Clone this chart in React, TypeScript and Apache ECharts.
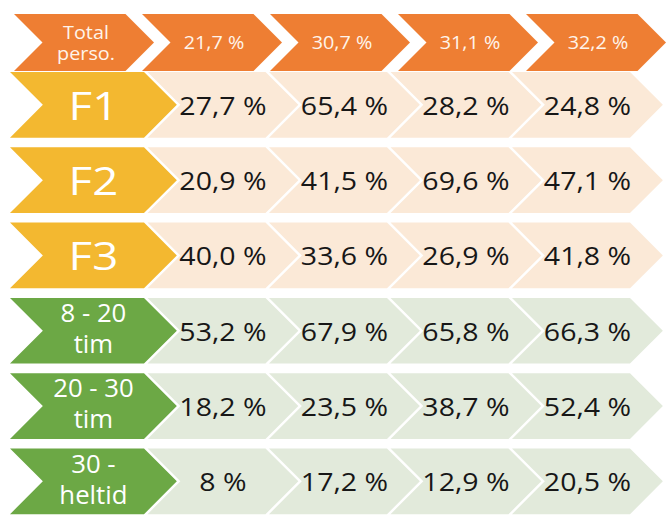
import { useEffect, useRef } from 'react';
import * as echarts from 'echarts';

// ---- data ----
const headerTitle = 'Total\nperso.';
const totals = ['21,7 %', '30,7 %', '31,1 %', '32,2 %'];
const columns = ['k1', 'k2', 'k3', 'k4'];
const rowLabels = ['F1', 'F2', 'F3', '8 - 20\ntim', '20 - 30\ntim', '30 -\nheltid'];
const rowGroups = ['F', 'F', 'F', 'tim', 'tim', 'tim'];
const valuesF1 = ['27,7 %', '65,4 %', '28,2 %', '24,8 %'];
const valuesF2 = ['20,9 %', '41,5 %', '69,6 %', '47,1 %'];
const valuesF3 = ['40,0 %', '33,6 %', '26,9 %', '41,8 %'];
const values8to20 = ['53,2 %', '67,9 %', '65,8 %', '66,3 %'];
const values20to30 = ['18,2 %', '23,5 %', '38,7 %', '52,4 %'];
const values30toFull = ['8 %', '17,2 %', '12,9 %', '20,5 %'];

// ---- styling ----
const ORANGE = '#EE7E33';
const GROUP_COLORS: Record<string, { label: string; cell: string }> = {
  F: { label: '#F3B830', cell: '#FBE9D7' },
  tim: { label: '#6CA845', cell: '#E2EADB' },
};
const FONT = '"Open Sans", sans-serif';

const tableRows = [valuesF1, valuesF2, valuesF3, values8to20, values20to30, values30toFull];
const headerCats = ['total', ...columns];
const headerData = [headerTitle, ...totals].map((t, i) => ({ value: [i, 0], text: t }));
const cellData = tableRows.flatMap((row, ri) =>
  row.map((v, ci) => ({ value: [ci, ri], text: v, group: rowGroups[ri] }))
);
const labelData = rowLabels.map((l, ri) => ({ value: [0, ri], text: l, group: rowGroups[ri] }));

const HEADER_GAP = 16.5;
const CELL_GAP = 3.5;
const ROW_GAP = 9.6;
const LABEL_W = 134;

function chevron(left: number, w: number, d: number, cy: number, h: number) {
  const top = cy - h / 2;
  const bot = cy + h / 2;
  return [
    [left, top],
    [left + w, top],
    [left + w + d, cy],
    [left + w, bot],
    [left, bot],
    [left + d, cy],
  ];
}

export default function App() {
  const ref = useRef<HTMLDivElement>(null);
  useEffect(() => {
    document.body.style.margin = '0';
    const chart = echarts.init(ref.current!, undefined, { renderer: 'svg' });
    chart.setOption({
      animation: false,
      backgroundColor: '#ffffff',
      grid: [
        { left: 14, top: 14, width: 640, height: 57 },
        { left: 147.5, top: 67.2, width: 486, height: 459.6 },
      ],
      xAxis: [
        { type: 'category', gridIndex: 0, data: headerCats, show: false },
        { type: 'category', gridIndex: 1, data: columns, show: false },
      ],
      yAxis: [
        { type: 'category', gridIndex: 0, data: ['h'], show: false },
        { type: 'category', gridIndex: 1, data: rowLabels, inverse: true, show: false },
      ],
      series: [
        {
          type: 'custom',
          xAxisIndex: 0,
          yAxisIndex: 0,
          data: headerData,
          renderItem: (params: any, api: any) => {
            const item = headerData[params.dataIndex];
            const c = api.coord([api.value(0), api.value(1)]);
            const s = api.size([1, 1]);
            const h = s[1];
            const d = h / 2;
            const left = c[0] - s[0] / 2;
            const w = s[0] - HEADER_GAP;
            return {
              type: 'group',
              children: [
                { type: 'polygon', shape: { points: chevron(left, w, d, c[1], h) }, style: { fill: ORANGE } },
                {
                  type: 'text',
                  x: left + (w + d) / 2 + 2,
                  y: c[1],
                  scaleX: 1.1,
                  style: {
                    text: item.text,
                    fill: '#FFF4EA',
                    font: `18px ${FONT}`,
                    lineHeight: 21,
                    align: 'center',
                    verticalAlign: 'middle',
                  },
                },
              ],
            };
          },
        },
        {
          type: 'custom',
          xAxisIndex: 1,
          yAxisIndex: 1,
          data: labelData,
          renderItem: (params: any, api: any) => {
            const item = labelData[params.dataIndex];
            const c = api.coord([api.value(0), api.value(1)]);
            const s = api.size([1, 1]);
            const h = s[1] - ROW_GAP;
            const d = h / 2;
            const cellLeft = c[0] - s[0] / 2;
            const tip = cellLeft + d - CELL_GAP;
            const left = tip - d - LABEL_W;
            const twoLines = item.text.indexOf('\n') >= 0;
            return {
              type: 'group',
              children: [
                {
                  type: 'polygon',
                  shape: { points: chevron(left, LABEL_W, d, c[1], h) },
                  style: { fill: GROUP_COLORS[item.group].label },
                },
                {
                  type: 'text',
                  x: (left + tip) / 2,
                  y: c[1] - (twoLines ? 3 : 0),
                  scaleX: twoLines ? 1.03 : 1.2,
                  style: {
                    text: item.text,
                    fill: '#FFFFFF',
                    font: twoLines ? `25px ${FONT}` : `38px ${FONT}`,
                    lineHeight: 31,
                    align: 'center',
                    verticalAlign: 'middle',
                  },
                },
              ],
            };
          },
        },
        {
          type: 'custom',
          xAxisIndex: 1,
          yAxisIndex: 1,
          data: cellData,
          renderItem: (params: any, api: any) => {
            const item = cellData[params.dataIndex];
            const c = api.coord([api.value(0), api.value(1)]);
            const s = api.size([1, 1]);
            const h = s[1] - ROW_GAP;
            const d = h / 2;
            const left = c[0] - s[0] / 2;
            const w = s[0] - CELL_GAP;
            return {
              type: 'group',
              children: [
                {
                  type: 'polygon',
                  shape: { points: chevron(left, w, d, c[1], h) },
                  style: { fill: GROUP_COLORS[item.group].cell },
                },
                {
                  type: 'text',
                  x: left + (w + d) / 2,
                  y: c[1],
                  scaleX: 1.14,
                  style: {
                    text: item.text,
                    fill: '#171717',
                    font: `25px ${FONT}`,
                    align: 'center',
                    verticalAlign: 'middle',
                  },
                },
              ],
            };
          },
        },
      ],
    });
    return () => chart.dispose();
  }, []);
  return <div ref={ref} style={{ width: 670, height: 519 }} />;
}
